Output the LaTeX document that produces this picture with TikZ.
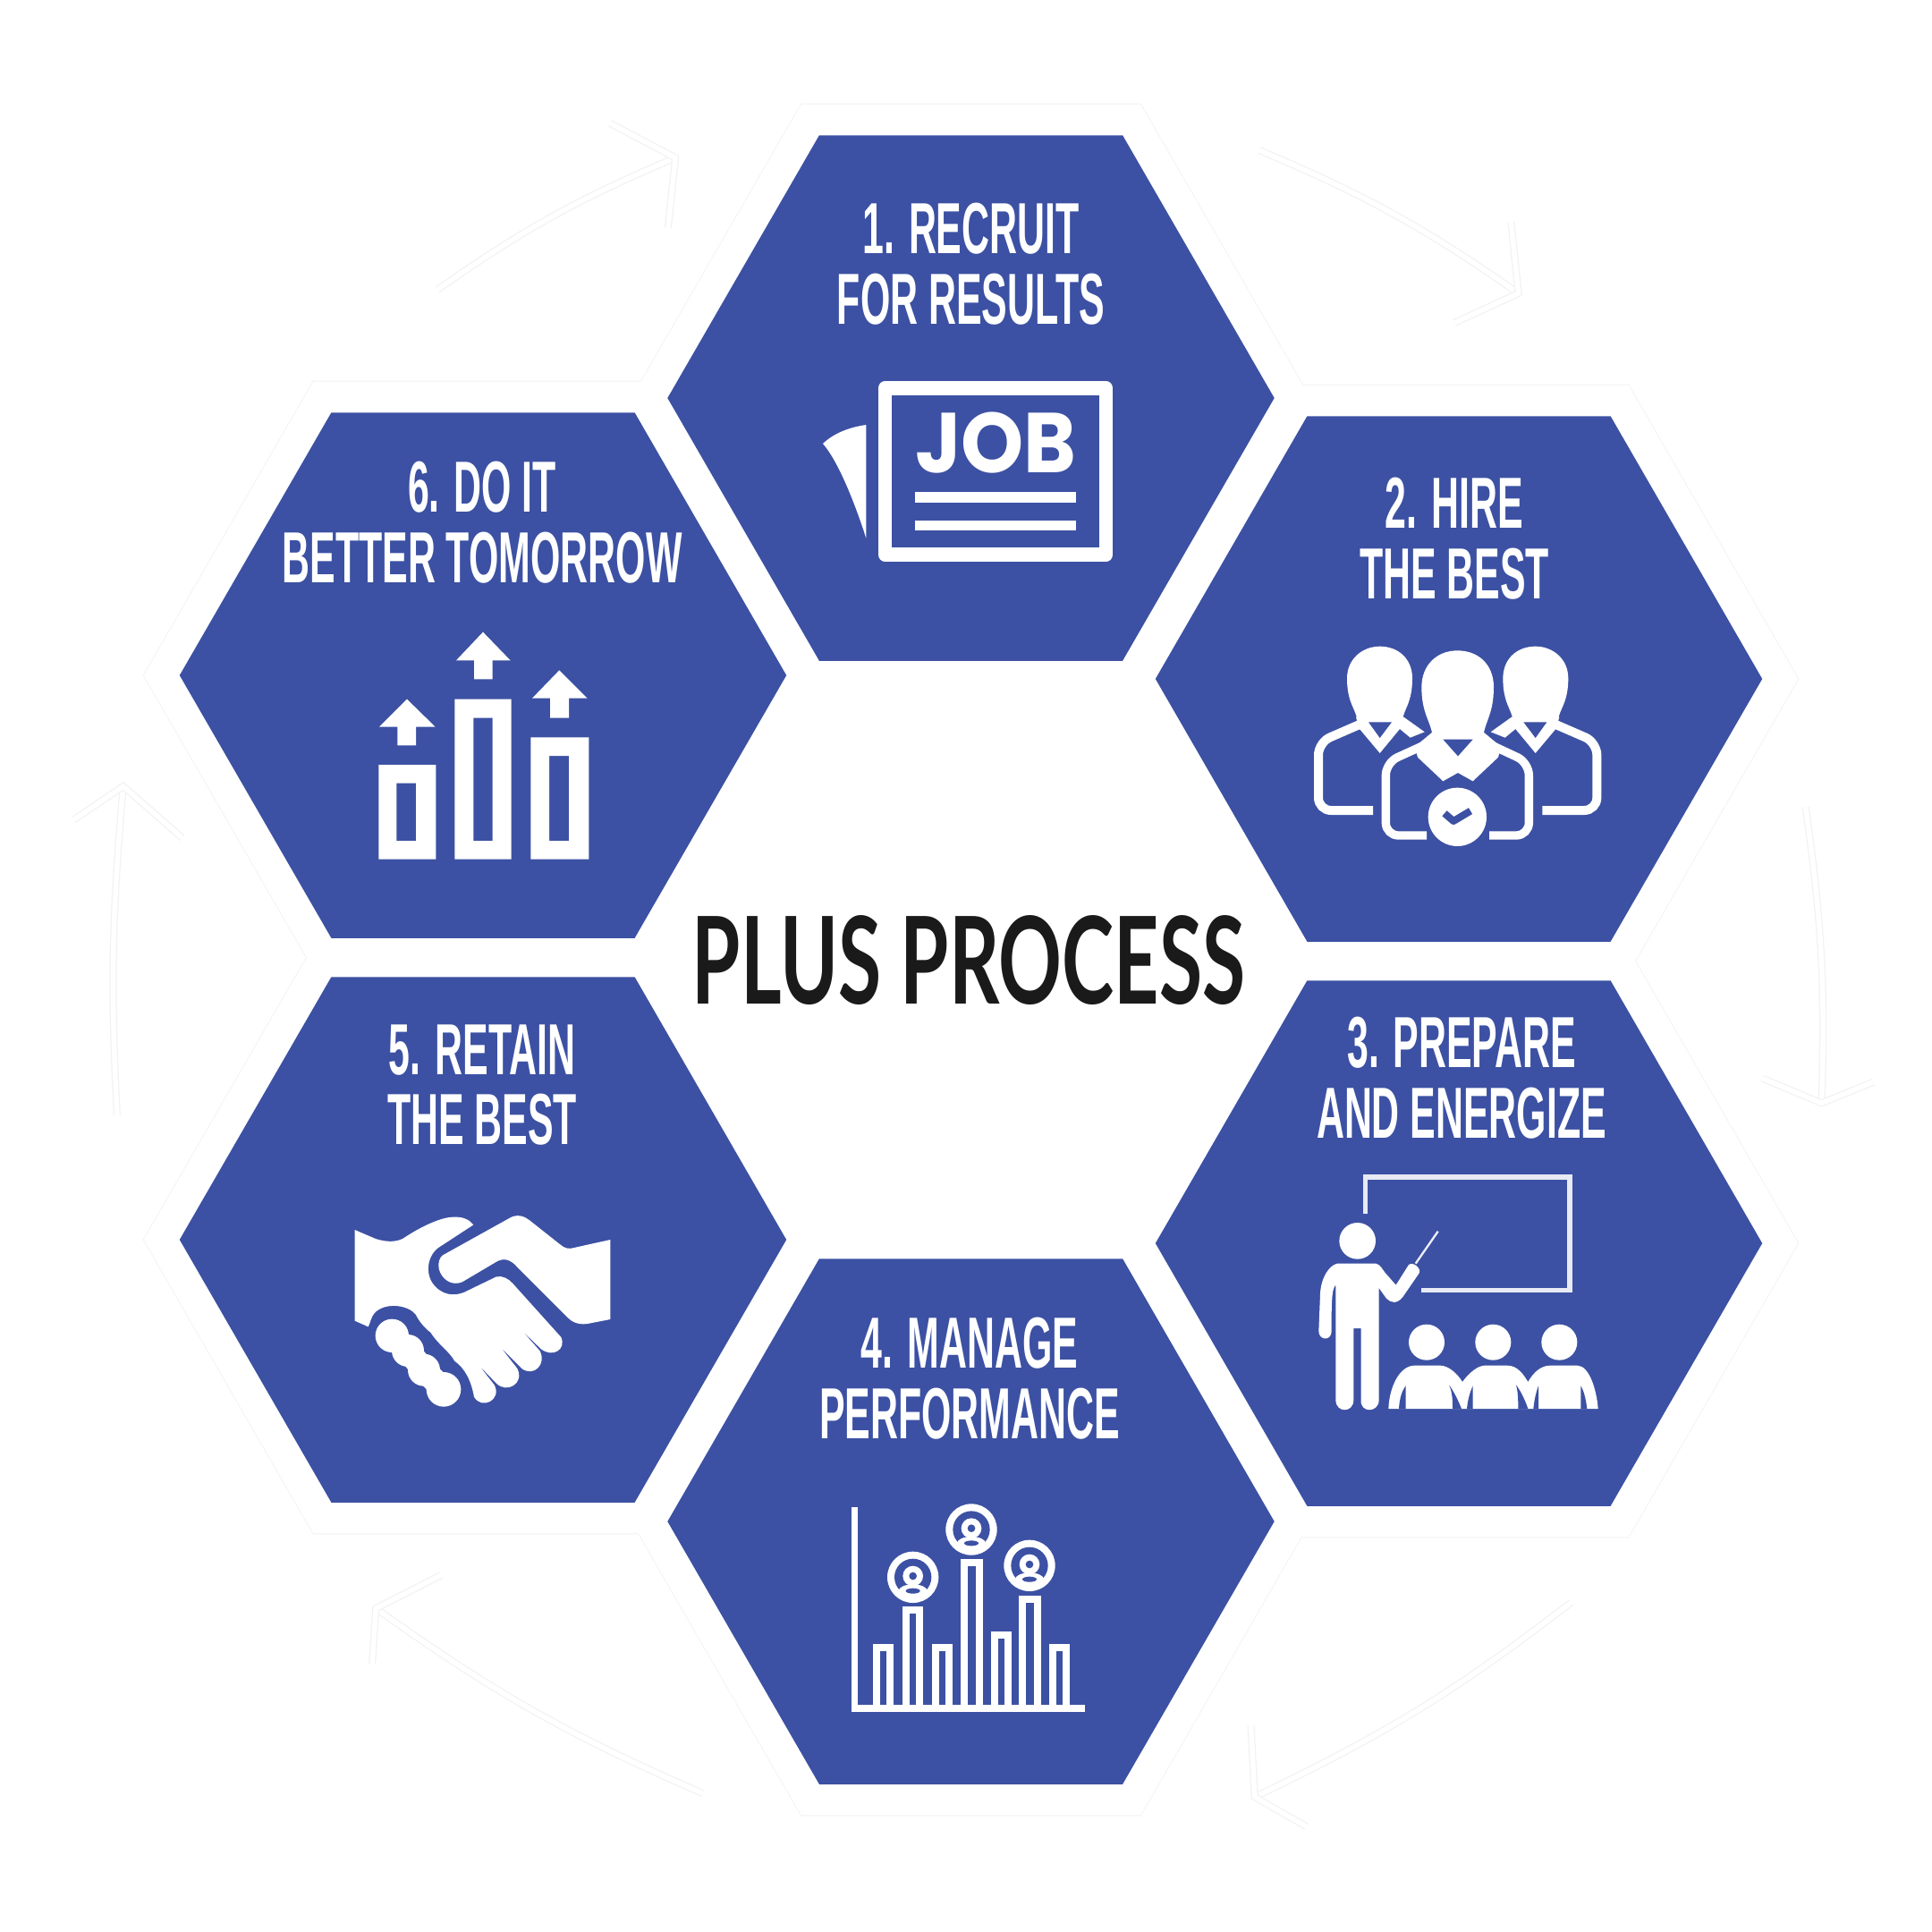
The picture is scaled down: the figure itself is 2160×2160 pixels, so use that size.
\documentclass[tikz,border=0pt]{standalone}
\usepackage{fontspec}
\usetikzlibrary{shapes.geometric}
\newfontfamily\condfont[FakeStretch=0.53]{Liberation Sans}
\newfontfamily\titlefont[FakeStretch=0.648]{Lato}
\newfontfamily\jobfont[FakeStretch=0.94]{Poppins}
\definecolor{hexblue}{HTML}{3C51A3}
\definecolor{titleink}{HTML}{1A1A1A}
\definecolor{ghostline}{HTML}{F2F2F2}
\tikzset{
  hexa/.style={regular polygon,regular polygon sides=6,inner sep=0pt,outer sep=0pt,minimum size=6.78cm,fill=hexblue},
  hexrim/.style={regular polygon,regular polygon sides=6,inner sep=0pt,outer sep=0pt,minimum size=7.58cm},
  steplabel/.style={text=white,align=center,inner sep=0pt,font=\condfont\bfseries\fontsize{23}{22.3}\selectfont},
  titlelabel/.style={text=titleink,inner sep=0pt,font=\titlefont\bfseries\fontsize{38.5}{40}\selectfont},
  zw/.style={line width=#1*0.0948pt},
  ghost/.style={draw=ghostline,line width=0.35pt,double=white,double distance=1.6pt},
  zoomicon/.style={shift={#1},scale=0.33333},
}
\newcommand{\sideperson}{%
  \fill[white] (262,345) .. controls (258,308) and (228,288) .. (228,205) .. controls (228,140) and (280,98) .. (338,98) .. controls (400,98) and (447,140) .. (447,205) .. controls (447,288) and (418,308) .. (414,345) -- cycle;
  \fill[white] (258,335) -- (418,335) -- (488,385) -- (440,404) -- (405,375) -- (338,456) -- (270,375) -- cycle;
  \fill[hexblue] (300,352) -- (378,352) -- (338,405) -- cycle;
  \draw[white,zw=30,rounded corners=4pt] (315,648) -- (132,648) -- (132,420) -- (270,360);
}
\newcommand{\chartperson}[2]{%
  \begin{scope}[shift={(#1,#2)}]
    \fill[white] (0,0) circle[radius=86];
    \fill[hexblue] (0,0) circle[radius=62];
    \fill[white] (0,-4) circle[radius=34];
    \fill[white] (0,46) ellipse[x radius=48,y radius=22];
    \fill[hexblue] (0,-4) circle[radius=13];
    \fill[hexblue] (0,46) ellipse[x radius=24,y radius=9];
  \end{scope}}
\newcommand{\ghostarrow}[7]{%
  \coordinate (#1s) at (#2);
  \coordinate (#1t) at (#3);
  \coordinate (#1a) at (#4);
  \coordinate (#1b) at (#5);
  \draw[ghost] (#1s) to[bend #6=#7] (#1t);
  \draw[ghost] (#1a) -- (#1t) -- (#1b);}
\begin{document}
\begin{tikzpicture}[x=0.01cm,y=-0.01cm]
\useasboundingbox (0,0) rectangle (2160,2160);
% faint rims
\foreach \n/\p in {1/{1085.5,445},2/{1631,759},3/{1631,1390},4/{1085.5,1701},5/{540,1386},6/{540,755}}{
  \node[hexrim,draw=ghostline,line width=0.5pt] (rim\n) at (\p) {};
}
\foreach \n/\p in {1/{1085.5,445},2/{1631,759},3/{1631,1390},4/{1085.5,1701},5/{540,1386},6/{540,755}}{
  \node[hexrim,fill=white] (rimfill\n) at (\p) {};
}
\node[regular polygon,regular polygon sides=6,inner sep=0pt,minimum size=7.3cm,fill=white] (centrecover) at (1085.5,1073) {};
% faint arrows
\begin{scope}[scale=1.3776]
\ghostarrow{ga}{355,235}{548,128}{495,100}{542,185}{left}{6}
\ghostarrow{gb}{1022,122}{1232,238}{1180,262}{1226,180}{left}{6}
\ghostarrow{gc}{1465,655}{1478,895}{1430,875}{1520,878}{left}{5}
\ghostarrow{gd}{1275,1300}{1018,1458}{1015,1400}{1060,1482}{left}{6}
\ghostarrow{ge}{570,1455}{305,1305}{358,1278}{302,1350}{left}{6}
\ghostarrow{gf}{95,905}{100,638}{60,665}{148,680}{left}{4}
\end{scope}
% hexagons
\node[hexa] (hex1) at (1085.5,445) {};
\node[hexa] (hex2) at (1631,759) {};
\node[hexa] (hex3) at (1631,1390) {};
\node[hexa] (hex4) at (1085.5,1701) {};
\node[hexa] (hex5) at (540,1386) {};
\node[hexa] (hex6) at (540,755) {};
% labels
\node[steplabel] (lab1) at (1085.5,295) {1. RECRUIT\\FOR RESULTS};
\node[steplabel] (lab2) at (1626,602) {2. HIRE\\THE BEST};
\node[steplabel] (lab3) at (1634,1205) {3. PREPARE\\AND ENERGIZE};
\node[steplabel] (lab4) at (1084,1541) {4. MANAGE\\PERFORMANCE};
\node[steplabel] (lab5) at (539,1213) {5. RETAIN\\THE BEST};
\node[steplabel] (lab6) at (539,584) {6. DO IT\\BETTER TOMORROW};
\node[titlelabel] (title) at (1083,1074) {PLUS PROCESS};
% icon 1: job
\begin{scope}[zoomicon={(880,400)}]
  \draw[white,zw=46,line join=round] (328,102) rectangle (1070,660);
  \node[text=white,inner sep=0pt,font=\jobfont\bfseries\fontsize{27}{27}\selectfont] (jobword) at (700,285) {JOB};
  \fill[white] (430,450) rectangle (970,485);
  \fill[white] (430,545) rectangle (970,580);
  \fill[white] (120,288) .. controls (160,250) and (215,232) .. (265,225) -- (265,605) .. controls (225,480) and (170,345) .. (120,288) -- cycle;
\end{scope}
% icon 2: people
\begin{scope}[zoomicon={(1430,690)}]
  \sideperson
  \begin{scope}[shift={(1198,0)},xscale=-1]
    \sideperson
  \end{scope}
  \fill[white] (515,400) .. controls (510,350) and (478,325) .. (478,235) .. controls (478,160) and (530,112) .. (598,112) .. controls (670,112) and (720,160) .. (720,235) .. controls (720,325) and (690,350) .. (685,400) -- cycle;
  \fill[white] (515,385) -- (685,385) -- (745,435) -- (735,470) -- (650,550) -- (600,522) -- (550,550) -- (465,470) -- (455,435) -- cycle;
  \fill[hexblue] (550,410) -- (650,410) -- (600,466) -- cycle;
  \draw[white,zw=28,rounded corners=4pt] (495,732) -- (358,732) -- (358,488) -- (520,414);
  \draw[white,zw=28,rounded corners=4pt] (705,732) -- (838,732) -- (838,488) -- (680,414);
  \fill[hexblue] (598,670) circle[radius=112];
  \fill[white] (598,670) circle[radius=98];
  \draw[hexblue,zw=24,line join=round] (555,658) -- (585,684) -- (642,650);
\end{scope}
% icon 3: teacher
\begin{scope}[zoomicon={(1440,1290)}]
  \draw[white!88!hexblue,zw=16] (260,202) -- (260,78) -- (945,78) -- (945,457) -- (447,457);
  \fill[white] (233,292) circle[radius=61];
  \fill[white] (165,368) -- (295,368) .. controls (310,372) and (315,385) .. (325,398) -- (362,440) -- (405,372) .. controls (420,360) and (448,385) .. (440,400) -- (385,480) .. controls (365,505) and (345,500) .. (330,485) -- (305,450) -- (305,825) .. controls (305,870) and (240,870) .. (245,825) -- (245,585) -- (220,585) -- (220,825) .. controls (220,870) and (160,870) .. (160,825) -- (160,440) .. controls (150,450) and (145,470) .. (146,595) .. controls (145,630) and (103,625) .. (103,595) -- (108,470) .. controls (110,420) and (135,375) .. (165,368) -- cycle;
  \draw[white!90!hexblue,zw=7] (428,368) -- (503,260);
  \fill[white] (465,632) circle[radius=60];
  \fill[white] (688,632) circle[radius=60];
  \fill[white] (910,632) circle[radius=60];
  \fill[white] (337,855) .. controls (340,780) and (375,710) .. (425,710) -- (510,710) .. controls (540,710) and (570,740) .. (585,765) .. controls (610,730) and (640,710) .. (660,710) -- (735,710) .. controls (770,710) and (790,740) .. (805,765) .. controls (825,730) and (850,710) .. (880,710) -- (970,710) .. controls (1010,710) and (1035,790) .. (1040,855) -- cycle;
  \fill[hexblue] (372,855) .. controls (374,820) and (382,795) .. (395,778) -- (395,855) -- cycle;
  \fill[hexblue] (540,775) .. controls (552,800) and (552,830) .. (552,855) -- (582,855) .. controls (570,825) and (555,795) .. (540,775) -- cycle;
  \fill[hexblue] (600,855) .. controls (603,825) and (610,800) .. (620,778) -- (620,855) -- cycle;
  \fill[hexblue] (765,775) .. controls (772,800) and (772,830) .. (772,855) -- (805,855) .. controls (795,825) and (780,795) .. (765,775) -- cycle;
  \fill[hexblue] (823,855) .. controls (826,825) and (832,800) .. (840,778) -- (840,855) -- cycle;
  \fill[hexblue] (982,778) .. controls (995,800) and (1000,830) .. (1003,855) -- (982,855) -- cycle;
\end{scope}
% icon 4: chart
\begin{scope}[zoomicon={(920,1660)}]
  \foreach \a/\b/\t in {170/235/535,268/335/410,367/432/535,463/535/250,565/630/495,660/730/375,760/825/535}{
    \draw[white,zw=24] (\a+10,750) -- (\a+10,\t+10) -- (\b-10,\t+10) -- (\b-10,750);
  }
  \draw[white,zw=22] (107,75) -- (107,750) -- (878,750);
  \chartperson{302}{310}
  \chartperson{498}{150}
  \chartperson{693}{271}
\end{scope}
% icon 5: handshake
\begin{scope}[zoomicon={(370,1340)}]
  \fill[white] (80,105) -- (150,135) .. controls (190,148) and (225,145) .. (245,132) .. controls (300,95) and (370,62) .. (410,62) .. controls (445,60) and (465,72) .. (478,88) -- (360,165) .. controls (320,195) and (315,260) .. (350,295) .. controls (385,332) and (430,325) .. (460,308) -- (555,262) .. controls (575,258) and (595,268) .. (610,285) -- (772,465) .. controls (790,505) and (745,535) .. (705,505) -- (640,442) -- (700,510) .. controls (725,555) and (680,600) .. (640,570) -- (570,500) -- (625,570) .. controls (650,620) and (590,655) .. (555,620) -- (497,560) -- (548,625) .. controls (575,675) and (505,710) .. (480,665) .. controls (470,610) and (450,570) .. (415,545) .. controls (395,510) and (360,490) .. (335,450) .. controls (310,430) and (295,410) .. (285,390) .. controls (265,360) and (190,345) .. (150,380) .. controls (132,398) and (132,420) .. (125,430) -- (80,410) -- cycle;
  \fill[white] (375,190) -- (600,65) .. controls (625,50) and (650,60) .. (665,72) -- (770,155) .. controls (785,168) and (800,170) .. (815,165) -- (937,138) -- (937,405) -- (860,420) .. controls (825,425) and (805,410) .. (795,400) -- (625,230) .. controls (600,200) and (575,200) .. (555,212) -- (440,280) .. controls (405,295) and (370,270) .. (362,235) .. controls (358,215) and (365,197) .. (375,190) -- cycle;
  \fill[white] (205,460) circle[radius=56];
  \fill[white] (258,510) circle[radius=54];
  \fill[white] (312,575) circle[radius=54];
  \fill[white] (378,640) circle[radius=58];
  \draw[white,zw=80,line cap=round,line join=round] (205,460) -- (258,510) -- (312,575) -- (378,640);
\end{scope}
% icon 6: growth bars
\begin{scope}[zoomicon={(400,690)}]
  \fill[white,even odd rule] (70,495) rectangle (262,812) (130,557) rectangle (195,750);
  \fill[white,even odd rule] (325,275) rectangle (515,812) (388,338) rectangle (452,750);
  \fill[white,even odd rule] (580,403) rectangle (775,812) (642,465) rectangle (708,750);
  \fill[white] (165,275) -- (260,368) -- (195,368) -- (195,430) -- (133,430) -- (133,368) -- (72,368) -- cycle;
  \fill[white] (420,50) -- (512,145) -- (452,145) -- (452,208) -- (390,208) -- (390,145) -- (330,145) -- cycle;
  \fill[white] (676,178) -- (770,272) -- (708,272) -- (708,338) -- (645,338) -- (645,272) -- (585,272) -- cycle;
\end{scope}
\end{tikzpicture}
\end{document}
